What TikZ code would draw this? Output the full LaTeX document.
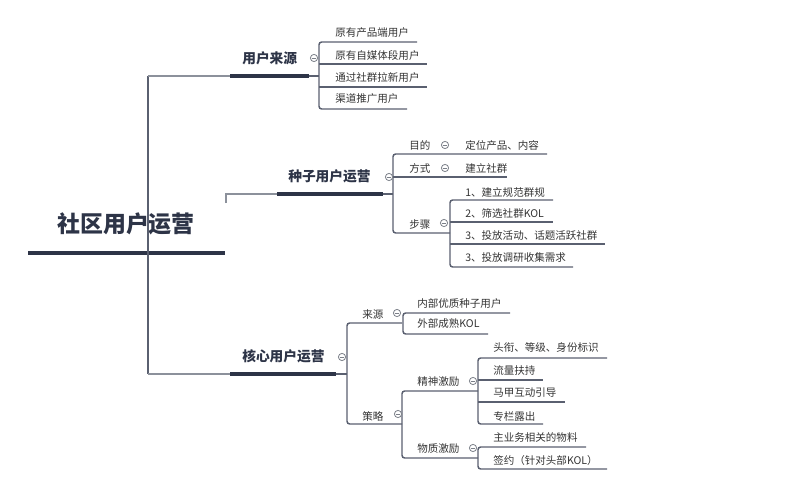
\documentclass[tikz,border=0pt]{standalone}
\usepackage{fontspec}
\setmainfont{Noto Sans CJK SC}
\definecolor{lc}{HTML}{5A6070}
\definecolor{sc}{HTML}{8C919B}
\definecolor{hc}{HTML}{2D3447}
\definecolor{tc}{HTML}{333333}
\definecolor{cc}{HTML}{7A7F88}
\begin{document}
\begin{tikzpicture}[x=0.75pt,y=-0.75pt,
  wire/.style={draw=lc,line width=1.1pt,rounded corners=2pt},
  stub/.style={draw=sc,line width=1.1pt},
  thick/.style={draw=hc,line width=2.3pt},
  leaf/.style={anchor=west,inner sep=0pt,font=\fontsize{7.9}{9}\selectfont,text=tc},
  branch/.style={anchor=west,inner sep=0pt,font=\fontsize{10.3}{12}\selectfont\bfseries,text=hc},
  rootnode/.style={anchor=center,inner sep=0pt,font=\fontsize{17.2}{20}\selectfont\bfseries,text=hc},
  collapse/.style={circle,draw=cc,fill=white,line width=0.6pt,minimum size=5.4pt,inner sep=0pt,
    path picture={\draw[cc,line width=0.6pt] ([xshift=-1.5pt]path picture bounding box.center) -- ([xshift=1.5pt]path picture bounding box.center);}}]
\useasboundingbox (0,0) rectangle (798,499);

% ---------- coordinates of the connector skeleton ----------
\coordinate (rootL) at (28,253);
\coordinate (rootR) at (225,253);
\coordinate (trunkTop) at (148,76);
\coordinate (trunkBot) at (148,374);
\coordinate (b2stub) at (226,203);

% ---------- root ----------
\node[rootnode] (root) at (126,224) {社区用户运营};
\draw[thick] (rootL) -- (rootR);
\draw[wire,rounded corners=0pt] (trunkTop) -- (trunkBot);

% ---------- branch 1 ----------
\node[branch] (b1) at (242,58) {用户来源};
\coordinate (b1a) at (230,76); \coordinate (b1b) at (309,76); \coordinate (b1c) at (319,76);
\draw[stub] (trunkTop) -- (b1a);
\draw[thick] (b1a) -- (b1b);
\draw[wire] (b1b) -- (b1c);
\node[leaf] (c11) at (335,33) {原有产品端用户};
\node[leaf] (c12) at (335,55) {原有自媒体段用户};
\node[leaf] (c13) at (335,77) {通过社群拉新用户};
\node[leaf] (c14) at (335,99) {渠道推广用户};
\draw[wire] (417,42) -- (319,42) -- (319,109) -- (407,109);
\draw[wire] (319,64) -- (427,64);
\draw[wire] (319,87) -- (427,87);
\node[collapse] (k1) at (314,58) {};

% ---------- branch 2 ----------
\node[branch] (b2) at (288,176) {种子用户运营};
\coordinate (b2a) at (277,194); \coordinate (b2b) at (383,194); \coordinate (b2c) at (393,194);
\draw[stub] (b2stub) -- (226,194) -- (b2a);
\draw[thick] (b2a) -- (b2b);
\draw[wire] (b2b) -- (b2c);
\node[leaf] (m1) at (409,145) {目的};
\node[leaf] (m2) at (409,168) {方式};
\node[leaf] (m3) at (409,224) {步骤};
\draw[wire] (547,154) -- (393,154) -- (393,233) -- (450,233);
\draw[wire] (393,177) -- (507,177);
\node[leaf] (g1) at (465,145) {定位产品、内容};
\node[leaf] (g2) at (465,168) {建立社群};
\node[leaf] (s1) at (465,192) {1、建立规范群规};
\node[leaf] (s2) at (465,213) {2、筛选社群KOL};
\node[leaf] (s3) at (465,236) {3、投放活动、话题活跃社群};
\node[leaf] (s4) at (465,258) {3、投放调研收集需求};
\draw[wire] (553,200) -- (450,200) -- (450,267) -- (573,267);
\draw[wire] (450,222) -- (553,222);
\draw[wire] (450,244) -- (605,244);
\node[collapse] (k2) at (389,177) {};
\node[collapse] (km1) at (445,145) {};
\node[collapse] (km2) at (445,168) {};
\node[collapse] (km3) at (444,223) {};

% ---------- branch 3 ----------
\node[branch] (b3) at (242,356) {核心用户运营};
\coordinate (b3a) at (230,374); \coordinate (b3b) at (336,374); \coordinate (b3c) at (347,374);
\draw[stub] (trunkBot) -- (b3a);
\draw[thick] (b3a) -- (b3b);
\draw[wire] (b3b) -- (b3c);
\node[leaf] (n1) at (362,314) {来源};
\node[leaf] (n2) at (362,416) {策略};
\draw[wire] (402,323) -- (347,323) -- (347,424) -- (402,424);
\node[leaf] (n11) at (417,303) {内部优质种子用户};
\node[leaf] (n12) at (417,324) {外部成熟KOL};
\draw[wire] (510,313) -- (403,313) -- (403,334) -- (488,334);
\node[leaf] (p1) at (417,382) {精神激励};
\node[leaf] (p2) at (417,449) {物质激励};
\draw[wire] (478,391) -- (402,391) -- (402,458) -- (478,458);
\node[leaf] (q1) at (493,348) {头衔、等级、身份标识};
\node[leaf] (q2) at (493,371) {流量扶持};
\node[leaf] (q3) at (493,393) {马甲互动引导};
\node[leaf] (q4) at (493,416) {专栏露出};
\draw[wire] (607,358) -- (478,358) -- (478,424) -- (543,424);
\draw[wire] (478,380) -- (543,380);
\draw[wire] (478,402) -- (565,402);
\node[leaf] (r1) at (493,437) {主业务相关的物料};
\node[leaf] (r2) at (493,460) {签约（针对头部KOL）};
\draw[wire] (586,447) -- (478,447) -- (478,469) -- (607,469);
\node[collapse] (k3) at (342,357) {};
\node[collapse] (kn1) at (397,313) {};
\node[collapse] (kn2) at (398,414) {};
\node[collapse] (kp1) at (473,381) {};
\node[collapse] (kp2) at (473,448) {};
\end{tikzpicture}
\end{document}
